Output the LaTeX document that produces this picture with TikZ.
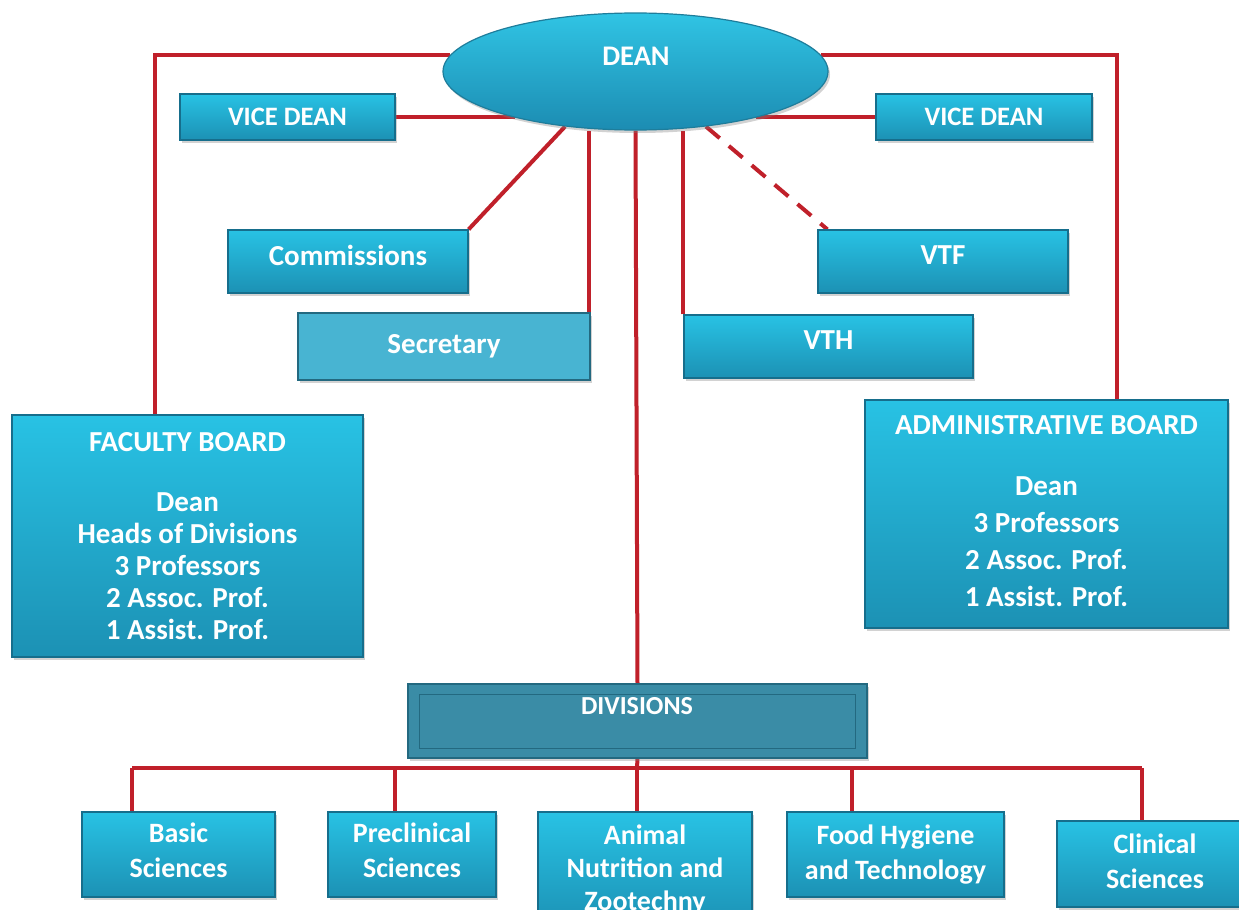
\documentclass[tikz,border=0pt]{standalone}
\usepackage{fontspec}
\setmainfont{Carlito}
\usetikzlibrary{shapes.geometric,shadows,backgrounds}
\definecolor{boxtop}{RGB}{40,194,228}
\definecolor{boxbot}{RGB}{28,145,180}
\definecolor{boxedge}{RGB}{22,110,140}
\definecolor{linered}{RGB}{192,32,42}
\definecolor{secfill}{RGB}{72,180,210}
\definecolor{divfill}{RGB}{58,140,166}
\definecolor{divedge}{RGB}{35,105,128}
\tikzset{
  box/.style={rectangle, draw=boxedge, line width=0.6pt, top color=boxtop, bottom color=boxbot,
    text=white, align=center, font=\bfseries\fontsize{14.5}{16}\selectfont,
    drop shadow={opacity=0.35, shadow xshift=1pt, shadow yshift=-1.5pt}},
  lbl/.style={text=white, align=center, font=\bfseries\fontsize{14.5}{16}\selectfont},
  conn/.style={draw=linered, line width=2pt},
  dashconn/.style={conn, dash pattern=on 9pt off 6pt},
}
\begin{document}
\begin{tikzpicture}[x=0.5pt,y=-0.5pt]
\begin{scope}[on background layer]
\fill[white] (0,0) rectangle (1239,910);
\end{scope}
\useasboundingbox (0,0) rectangle (1239,910);

% nodes
\node (dean) [box, ellipse, minimum width=192.5pt, minimum height=58.5pt, draw={rgb,255:red,30;green,125;blue,155}, top color={rgb,255:red,48;green,196;blue,228}, bottom color={rgb,255:red,28;green,140;blue,178}] at (635.5,71.5) {};
\node (deantext) [lbl, font=\bfseries\fontsize{14.2}{16}\selectfont] at (636,56) {DEAN};

\node (vdl) [box, minimum width=107.5pt, minimum height=23pt, font=\bfseries\fontsize{13.3}{15}\selectfont] at (287.5,117) {VICE DEAN};
\node (vdr) [box, minimum width=108pt, minimum height=23pt, font=\bfseries\fontsize{13.3}{15}\selectfont] at (984,117) {VICE DEAN};

\node (com) [box, minimum width=120pt, minimum height=31.5pt, text depth=6pt] at (348,261.5) {Commissions};
\node (vtf) [box, minimum width=125pt, minimum height=31.5pt, text depth=6pt] at (943,261.5) {VTF};

\node (sec) [box, minimum width=146pt, minimum height=33.5pt, top color=secfill, bottom color=secfill, draw=divedge, line width=1pt] at (444,346.5) {Secretary};
\node (vth) [box, minimum width=144.5pt, minimum height=31.5pt, text depth=6pt] at (828.5,346.5) {VTH};

\node (fb) [box, minimum width=175.5pt, minimum height=121pt] at (187.5,536)
  {FACULTY BOARD\\[14pt]Dean\\Heads of Divisions\\3 Professors\\2 Assoc. Prof.\\1 Assist. Prof.};
\node (ab) [box, minimum width=181.5pt, minimum height=114pt, font=\bfseries\fontsize{14.5}{18.5}\selectfont, text depth=3pt] at (1046.5,514)
  {ADMINISTRATIVE BOARD\\[12pt]Dean\\3 Professors\\2 Assoc. Prof.\\1 Assist. Prof.};

\node (div) [box, minimum width=229.5pt, minimum height=37pt, top color=divfill, bottom color=divfill, draw=divedge] at (637.5,721) {};
\draw[divedge, line width=0.8pt] ([shift={(6pt,-5.5pt)}]div.north west) rectangle ([shift={(-6pt,5pt)}]div.south east);
\node (divtext) [lbl, font=\bfseries\fontsize{13}{16}\selectfont] at (637,706) {DIVISIONS};

\tikzset{bot/.style={box, font=\bfseries\fontsize{14}{17.5}\selectfont}}
\node (bs) [bot, minimum width=96.5pt, minimum height=42.5pt, text depth=4pt] at (178.5,854.5) {Basic\\Sciences};
\node (ps) [bot, minimum width=84pt, minimum height=42.5pt, text depth=4pt] at (412,854.5) {Preclinical\\Sciences};
\node (an) [bot, minimum width=107pt, minimum height=58pt, font=\bfseries\fontsize{14}{16.5}\selectfont] at (645,870) {Animal\\Nutrition and\\Zootechny};
\node (fh) [bot, minimum width=108.5pt, minimum height=42.5pt] at (895.5,854.5) {Food Hygiene\\and Technology};
\node (cs) [bot, minimum width=98pt, minimum height=43pt, text depth=3pt] at (1155,864) {Clinical\\Sciences};

% bus coordinates
\coordinate (d1) at (132,768);
\coordinate (d2) at (395,768);
\coordinate (d3) at (637,768);
\coordinate (d4) at (852,768);
\coordinate (d5) at (1142,768);
\coordinate (fbtop) at (155,415);
\coordinate (abtop) at (1117,400);

\begin{scope}[on background layer]
  \draw[conn] (dean.175) -| (fbtop);
  \draw[conn] (dean.5) -| (abtop);
  \draw[conn] (vdl.east) -- (vdl.east -| dean.201);
  \draw[conn] (vdr.west) -- (vdr.west -| dean.339);
  \draw[conn] (com.north east) -- (dean.218);
  \draw[conn] ([xshift=-1pt]sec.north east) -- ([xshift=-1pt]sec.north east |- dean.south);
  \draw[conn] (dean.south) -- (div.north);
  \draw[conn] (vth.north west) -- (vth.north west |- dean.south);
  \draw[dashconn] (dean.322) -- ([xshift=5pt]vtf.north west);
  \draw[conn] (div.south) -- (d3);
  \draw[conn] (d1) -- (d5);
  \draw[conn] (d1) -- (d1 |- bs.north);
  \draw[conn] (d2) -- (d2 |- ps.north);
  \draw[conn] (d3) -- (d3 |- an.north);
  \draw[conn] (d4) -- (d4 |- fh.north);
  \draw[conn] (d5) -- (d5 |- cs.north);
\end{scope}
\end{tikzpicture}
\end{document}
